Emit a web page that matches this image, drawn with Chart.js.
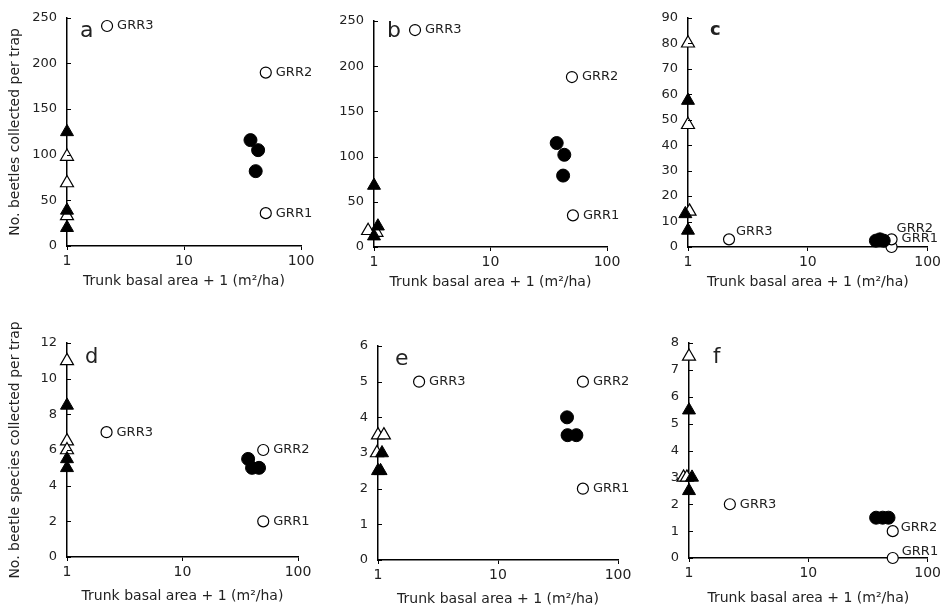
<!DOCTYPE html>
<html>
<head>
<meta charset="utf-8">
<script src="https://cdn.jsdelivr.net/npm/chart.js@4.4.1/dist/chart.umd.min.js"></script>
<style>
  html, body { margin: 0; padding: 0; background: #fff; }
  #wrap { position: relative; width: 944px; height: 608px; }
  #wrap canvas { position: absolute; left: 0; top: 0; }
</style>
</head>
<body>
<div id="wrap">
  <canvas id="pa" width="944" height="608"></canvas>
  <canvas id="pb" width="944" height="608"></canvas>
  <canvas id="pc" width="944" height="608"></canvas>
  <canvas id="pd" width="944" height="608"></canvas>
  <canvas id="pe" width="944" height="608"></canvas>
  <canvas id="pf" width="944" height="608"></canvas>
</div>
<script>
// shared
const xTicks = [1, 10, 100];
const grrNames = ['GRR1', 'GRR2', 'GRR3'];

// a - beetles per trap
const aYTicks = [0, 50, 100, 150, 200, 250];
const aClosedCircleX = [37, 43, 41], aClosedCircleY = [116, 105, 82];
const aOpenCircleX = [50, 50, 2.2], aOpenCircleY = [36, 190, 241];
const aClosedTriX = [1, 1, 1], aClosedTriY = [125, 39, 20];
const aOpenTriX = [1, 1, 1], aOpenTriY = [98, 69, 33];

// b
const bYTicks = [0, 50, 100, 150, 200, 250];
const bClosedCircleX = [37, 43, 42], bClosedCircleY = [115, 102, 79];
const bOpenCircleX = [51, 50, 2.25], bOpenCircleY = [35, 188, 240];
const bClosedTriX = [1, 1.08, 1], bClosedTriY = [68, 23, 12];
const bOpenTriX = [0.83, 0.89, 1.05], bOpenTriY = [17, 18, 16];

// c
const cYTicks = [0, 10, 20, 30, 40, 50, 60, 70, 80, 90];
const cClosedCircleX = [37, 40, 43], cClosedCircleY = [2.5, 3, 2.5];
const cOpenCircleX = [50, 50, 2.2], cOpenCircleY = [0, 3, 3];
const cClosedTriX = [1, 0.95, 1], cClosedTriY = [57.5, 13, 6.5];
const cOpenTriX = [1, 1, 1.03], cOpenTriY = [80, 48, 14];

// d - beetle species per trap
const dYTicks = [0, 2, 4, 6, 8, 10, 12];
const dClosedCircleX = [37, 40, 46], dClosedCircleY = [5.5, 5, 5];
const dOpenCircleX = [50, 50, 2.2], dOpenCircleY = [2, 6, 7];
const dClosedTriX = [1, 1, 1], dClosedTriY = [8.5, 5.5, 5];
const dOpenTriX = [1, 1, 1], dOpenTriY = [11, 6.5, 6];

// e
const eYTicks = [0, 1, 2, 3, 4, 5, 6];
const eClosedCircleX = [37.6, 38, 45], eClosedCircleY = [4, 3.5, 3.5];
const eOpenCircleX = [51, 51, 2.2], eOpenCircleY = [2, 5, 5];
const eClosedTriX = [1.08, 1, 1.05], eClosedTriY = [3, 2.5, 2.5];
const eOpenTriX = [1, 1.12, 0.98], eOpenTriY = [3.5, 3.5, 3];

// f
const fYTicks = [0, 1, 2, 3, 4, 5, 6, 7, 8];
const fClosedCircleX = [37, 42, 47], fClosedCircleY = [1.5, 1.5, 1.5];
const fOpenCircleX = [51, 51, 2.2], fOpenCircleY = [0, 1, 2];
const fClosedTriX = [1, 1.06, 1], fClosedTriY = [5.5, 3, 2.5];
const fOpenTriX = [1, 0.9, 0.96], fOpenTriY = [7.5, 3, 3];

const xTitle = 'Trunk basal area + 1 (m\u00b2/ha)';
const FONT = "'DejaVu Sans', sans-serif";
const TXT = '#222';

// layout of each panel (plot area in page pixels, label nudges)
const panels = [
  { id: 'pa', letter: 'a', area: { l: 67, r: 301, t: 16, b: 246 }, xTitleY: 281,
    yTicks: aYTicks, yTitle: 'No. beetles collected per trap',
    cc: [aClosedCircleX, aClosedCircleY], oc: [aOpenCircleX, aOpenCircleY],
    ct: [aClosedTriX, aClosedTriY], ot: [aOpenTriX, aOpenTriY],
    letterPos: [13, 19, 22, 'normal'], labelOff: [[10, 0], [10, 0], [10, 0]] },
  { id: 'pb', letter: 'b', area: { l: 374, r: 607, t: 21, b: 247 }, xTitleY: 282,
    yTicks: bYTicks,
    cc: [bClosedCircleX, bClosedCircleY], oc: [bOpenCircleX, bOpenCircleY],
    ct: [bClosedTriX, bClosedTriY], ot: [bOpenTriX, bOpenTriY],
    letterPos: [13, 16, 22, 'normal'], labelOff: [[10, 0], [10, 0], [10, 0]] },
  { id: 'pc', letter: 'c', area: { l: 688, r: 929, t: 15, b: 247 }, xTitleY: 282,
    yTicks: cYTicks,
    cc: [cClosedCircleX, cClosedCircleY], oc: [cOpenCircleX, cOpenCircleY],
    ct: [cClosedTriX, cClosedTriY], ot: [cOpenTriX, cOpenTriY],
    letterPos: [22, 17, 18, 'bold'], labelOff: [[10, -8], [5, -11], [7, -8]] },
  { id: 'pd', letter: 'd', area: { l: 67, r: 298, t: 343, b: 557 }, xTitleY: 596,
    yTicks: dYTicks, yTitle: 'No. beetle species collected per trap',
    cc: [dClosedCircleX, dClosedCircleY], oc: [dOpenCircleX, dOpenCircleY],
    ct: [dClosedTriX, dClosedTriY], ot: [dOpenTriX, dOpenTriY],
    letterPos: [18, 20, 21, 'normal'], labelOff: [[10, 0], [10, 0], [10, 0]] },
  { id: 'pe', letter: 'e', area: { l: 378, r: 618, t: 346, b: 560 }, xTitleY: 599,
    yTicks: eYTicks,
    cc: [eClosedCircleX, eClosedCircleY], oc: [eOpenCircleX, eOpenCircleY],
    ct: [eClosedTriX, eClosedTriY], ot: [eOpenTriX, eOpenTriY],
    letterPos: [17, 19, 22, 'normal'], labelOff: [[10, 0], [10, 0], [10, 0]] },
  { id: 'pf', letter: 'f', area: { l: 689, r: 929, t: 343, b: 558 }, xTitleY: 598,
    yTicks: fYTicks,
    cc: [fClosedCircleX, fClosedCircleY], oc: [fOpenCircleX, fOpenCircleY],
    ct: [fClosedTriX, fClosedTriY], ot: [fOpenTriX, fOpenTriY],
    letterPos: [24, 20, 21, 'normal'], labelOff: [[9, -6], [8, -4], [10, 0]] }
];

function pts(xs, ys) {
  return xs.map((x, i) => ({ x: x, y: ys[i] }));
}

// y ticks point inward, like the original
const innerTicks = {
  id: 'innerTicks',
  afterDraw(chart) {
    const ctx = chart.ctx, y = chart.scales.y, left = chart.chartArea.left;
    ctx.save();
    ctx.strokeStyle = '#000';
    ctx.lineWidth = 1;
    y.ticks.forEach(t => {
      const py = Math.round(y.getPixelForValue(t.value)) + 0.5;
      ctx.beginPath();
      ctx.moveTo(left, py);
      ctx.lineTo(left + 4, py);
      ctx.stroke();
    });
    ctx.restore();
  }
};

// panel letter + GRR names beside the open circles
const annotate = {
  id: 'annotate',
  afterDatasetsDraw(chart, args, opts) {
    const ctx = chart.ctx, p = opts.panel;
    ctx.save();
    ctx.fillStyle = TXT;
    ctx.font = p.letterPos[3] + ' ' + p.letterPos[2] + 'px ' + FONT;
    ctx.textBaseline = 'alphabetic';
    ctx.fillText(p.letter, chart.chartArea.left + p.letterPos[0], chart.chartArea.top + p.letterPos[1]);

    ctx.font = '13px ' + FONT;
    ctx.textBaseline = 'middle';
    const meta = chart.getDatasetMeta(3);
    meta.data.forEach((el, i) => {
      const off = p.labelOff[i];
      ctx.fillText(grrNames[i], el.x + off[0], el.y + off[1]);
    });
    ctx.restore();
  }
};

panels.forEach(p => {
  const titleLh = 14 * 1.2;
  const yW = p.yTitle ? p.area.l - (15 - titleLh / 2) : 40;
  const scaleBottom = p.xTitleY + titleLh / 2;
  const xH = scaleBottom - p.area.b;
  const yTicks = p.yTicks;

  new Chart(document.getElementById(p.id), {
    type: 'scatter',
    data: {
      datasets: [
        { data: pts(p.ct[0], p.ct[1]), pointStyle: 'triangle', pointRadius: 7.5,
          backgroundColor: '#000', borderColor: '#000', borderWidth: 1, clip: false },
        { data: pts(p.ot[0], p.ot[1]), pointStyle: 'triangle', pointRadius: 7.5,
          backgroundColor: '#fff', borderColor: '#000', borderWidth: 1.2, clip: false },
        { data: pts(p.cc[0], p.cc[1]), pointStyle: 'circle', pointRadius: 6.5,
          backgroundColor: '#000', borderColor: '#000', borderWidth: 1, clip: false },
        { data: pts(p.oc[0], p.oc[1]), pointStyle: 'circle', pointRadius: 5.5,
          backgroundColor: '#fff', borderColor: '#000', borderWidth: 1.2, clip: false }
      ]
    },
    options: {
      responsive: false,
      animation: false,
      events: [],
      layout: {
        padding: { left: p.area.l - yW, right: 944 - p.area.r, top: p.area.t, bottom: 608 - scaleBottom }
      },
      plugins: {
        legend: { display: false },
        tooltip: { enabled: false },
        annotate: { panel: p }
      },
      scales: {
        x: {
          type: 'logarithmic', min: 1, max: 100,
          afterBuildTicks: s => { s.ticks = xTicks.map(v => ({ value: v })); },
          afterFit: s => { s.height = xH; },
          ticks: { callback: v => String(v), autoSkip: false, maxRotation: 0, padding: 3,
                   color: TXT, font: { family: FONT, size: 14 } },
          grid: { drawOnChartArea: false, drawTicks: true, tickLength: 4, color: '#000' },
          border: { color: '#000', width: 1.5 },
          title: { display: true, text: xTitle, color: TXT, padding: { top: 0, bottom: 0 },
                   font: { family: FONT, size: 14 } }
        },
        y: {
          min: yTicks[0], max: yTicks[yTicks.length - 1],
          afterBuildTicks: s => { s.ticks = yTicks.map(v => ({ value: v })); },
          afterFit: s => { s.width = yW; },
          ticks: { padding: 10, color: TXT, font: { family: FONT, size: 13 } },
          grid: { drawOnChartArea: false, drawTicks: false },
          border: { color: '#000', width: 1.5 },
          title: { display: !!p.yTitle, text: p.yTitle || '', color: TXT, padding: { top: 0, bottom: 0 },
                   font: { family: FONT, size: 14 } }
        }
      }
    },
    plugins: [innerTicks, annotate]
  });
});
</script>
</body>
</html>
